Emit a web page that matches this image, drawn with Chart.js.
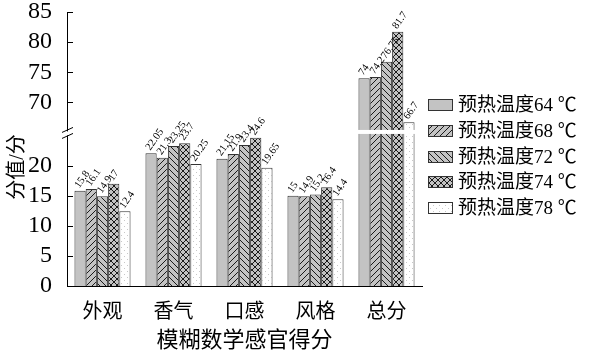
<!DOCTYPE html>
<html><head><meta charset="utf-8">
<script src="https://cdn.jsdelivr.net/npm/chart.js@4"></script>
<style>html,body{margin:0;padding:0;background:#fff;} #wrap{width:595px;height:352px;position:relative;}</style>
</head><body><div id="wrap"><canvas id="c" width="595" height="352"></canvas></div>
<script>
const categories = ['外观','香气','口感','风格','总分'];
const seriesNames = ['预热温度64 ℃','预热温度68 ℃','预热温度72 ℃','预热温度74 ℃','预热温度78 ℃'];
const t64 = [15.8, 22.05, 21.15, 15, 74];
const t68 = [16.1, 21.3, 21.9, 14.9, 74.2];
const t72 = [14.9, 23.25, 23.4, 15.2, 76.75];
const t74 = [17, 23.7, 24.6, 16.4, 81.7];
const t78 = [12.4, 20.25, 19.65, 14.4, 66.7];
const lowTicks = [0, 5, 10, 15, 20];
const highTicks = [70, 75, 80, 85];
const yTitle = '分值/分';
const xTitle = '模糊数学感官得分';

// broken axis: values >= breakHigh are shifted down to sit just above breakLow
const breakLow = 25.5;
const breakHigh = 65;
const shift = breakHigh - breakLow;
function toAxis(v){ return v >= breakHigh ? v - shift : v; }
function fromAxis(a){ return a > breakLow ? a + shift : a; }

const canvas = document.getElementById('c');
const mainCtx = canvas.getContext('2d');
const GRAY = '#c3c3c3';
function makePattern(kind){
  if (kind === 'solid') return GRAY;
  const s = 6;
  const c = document.createElement('canvas'); c.width = s; c.height = s;
  const g = c.getContext('2d');
  g.fillStyle = kind === 'dots' ? '#ffffff' : GRAY;
  g.fillRect(0,0,s,s);
  g.strokeStyle = '#1a1a1a'; g.lineWidth = 1;
  if (kind === 'fwd' || kind === 'cross'){
    g.beginPath();
    for (let k=-1;k<=1;k++){ g.moveTo(k*s, s); g.lineTo(k*s+s, 0); }
    g.stroke();
  }
  if (kind === 'back' || kind === 'cross'){
    g.beginPath();
    for (let k=-1;k<=1;k++){ g.moveTo(k*s, 0); g.lineTo(k*s+s, s); }
    g.stroke();
  }
  if (kind === 'dots'){
    g.fillStyle = '#c8c8c8';
    g.fillRect(1,1,1,1); g.fillRect(4,4,1,1);
  }
  return mainCtx.createPattern(c, 'repeat');
}
const fills = [makePattern('solid'), makePattern('fwd'), makePattern('back'), makePattern('cross'), makePattern('dots')];
const seriesData = [t64, t68, t72, t74, t78];

const FONT_SERIF = '"Liberation Serif", "Noto Sans CJK SC", serif';

const extras = {
  id: 'extras',
  afterDatasetsDraw(chart){
    const ctx = chart.ctx;
    const y = chart.scales.y;
    const last = categories.length - 1;
    const m0 = chart.getDatasetMeta(0).data[last];
    const m4 = chart.getDatasetMeta(4).data[last];
    const yb = y.getPixelForValue(breakLow);
    ctx.save();
    ctx.fillStyle = '#fff';
    const gx0 = m0.x - m0.width/2 - 4, gx1 = m4.x + m4.width/2 + 2;
    ctx.fillRect(gx0, yb - 2.5, gx1 - gx0, 4);
    ctx.restore();
    ctx.save();
    ctx.font = '10.5px ' + FONT_SERIF;
    ctx.fillStyle = '#000';
    ctx.textAlign = 'left'; ctx.textBaseline = 'middle';
    chart.data.datasets.forEach((ds, i) => {
      chart.getDatasetMeta(i).data.forEach((bar, j) => {
        ctx.save();
        ctx.translate(bar.x - 3, bar.y - 4);
        ctx.rotate(-55 * Math.PI / 180);
        ctx.fillText(String(ds.raw[j]), 0, 0);
        ctx.restore();
      });
    });
    ctx.restore();
  },
  afterDraw(chart){
    const ctx = chart.ctx;
    const y = chart.scales.y;
    const a = chart.chartArea;
    ctx.save();
    ctx.strokeStyle = '#000'; ctx.lineWidth = 1;
    y.ticks.forEach(t => {
      const py = Math.round(y.getPixelForValue(t.value)) + 0.5;
      ctx.beginPath(); ctx.moveTo(a.left, py); ctx.lineTo(a.left + 6, py); ctx.stroke();
    });
    const yb = y.getPixelForValue(breakLow) + 1;
    ctx.fillStyle = '#fff';
    ctx.fillRect(a.left - 2, yb - 2, 4, 4);
    ctx.beginPath();
    ctx.moveTo(a.left - 5, yb - 1); ctx.lineTo(a.left + 6, yb - 6);
    ctx.moveTo(a.left - 5, yb + 5); ctx.lineTo(a.left + 6, yb);
    ctx.stroke();
    ctx.fillStyle = '#000';
    ctx.font = '20px ' + FONT_SERIF;
    ctx.translate(18, 167);
    ctx.rotate(-Math.PI/2);
    ctx.textAlign = 'center'; ctx.textBaseline = 'middle';
    ctx.fillText(yTitle, 0, 0);
    ctx.restore();
    ctx.save();
    ctx.font = '19px ' + FONT_SERIF;
    ctx.textAlign = 'left'; ctx.textBaseline = 'middle';
    const lx = 428, ly0 = 105, step = 25.8;
    chart.data.datasets.forEach((ds, i) => {
      const cy = Math.round(ly0 + i * step);
      ctx.fillStyle = ds.backgroundColor;
      ctx.fillRect(lx, cy - 6, 25, 12);
      ctx.strokeStyle = '#333'; ctx.lineWidth = 1;
      ctx.strokeRect(lx + 0.5, cy - 5.5, 24, 11);
      ctx.fillStyle = '#000';
      ctx.fillText(ds.label, lx + 30, cy + 1);
    });
    ctx.restore();
  }
};

new Chart(canvas, {
  type: 'bar',
  plugins: [extras],
  data: {
    labels: categories,
    datasets: seriesData.map((arr, i) => ({
      label: seriesNames[i],
      data: arr.map(toAxis),
      raw: arr,
      backgroundColor: fills[i],
      borderColor: '#333',
      borderWidth: 1,
      borderSkipped: 'bottom',
      categoryPercentage: 0.79,
      barPercentage: 1.0
    }))
  },
  options: {
    responsive: false,
    animation: false,
    devicePixelRatio: 1,
    layout: { padding: { top: 12, right: 173, left: 0, bottom: 0 } },
    plugins: { legend: { display: false }, tooltip: { enabled: false } },
    scales: {
      x: {
        grid: { display: false, drawTicks: false },
        border: { display: true, color: '#000', width: 1 },
        ticks: { color: '#000', maxRotation: 0, autoSkip: false, font: { family: FONT_SERIF, size: 20 }, padding: 15 },
        title: { display: true, text: xTitle, color: '#000', font: { family: FONT_SERIF, size: 22, lineHeight: 1.0 }, padding: { top: 0, bottom: 0 } },
        afterFit(s){ s.height = 66; s.paddingLeft = 0; s.paddingRight = 0; }
      },
      y: {
        min: 0, max: toAxis(highTicks[highTicks.length - 1]),
        grid: { display: false, drawTicks: false },
        border: { display: true, color: '#000', width: 1 },
        ticks: {
          color: '#000', autoSkip: false, font: { family: FONT_SERIF, size: 24 }, padding: 15,
          callback: (v) => String(fromAxis(v))
        },
        afterBuildTicks(s){ s.ticks = lowTicks.concat(highTicks.map(toAxis)).map(v => ({ value: v })); },
        afterFit(s){ s.width = 67; s.paddingTop = 0; s.paddingBottom = 0; }
      }
    }
  }
});
</script>
</body></html>
